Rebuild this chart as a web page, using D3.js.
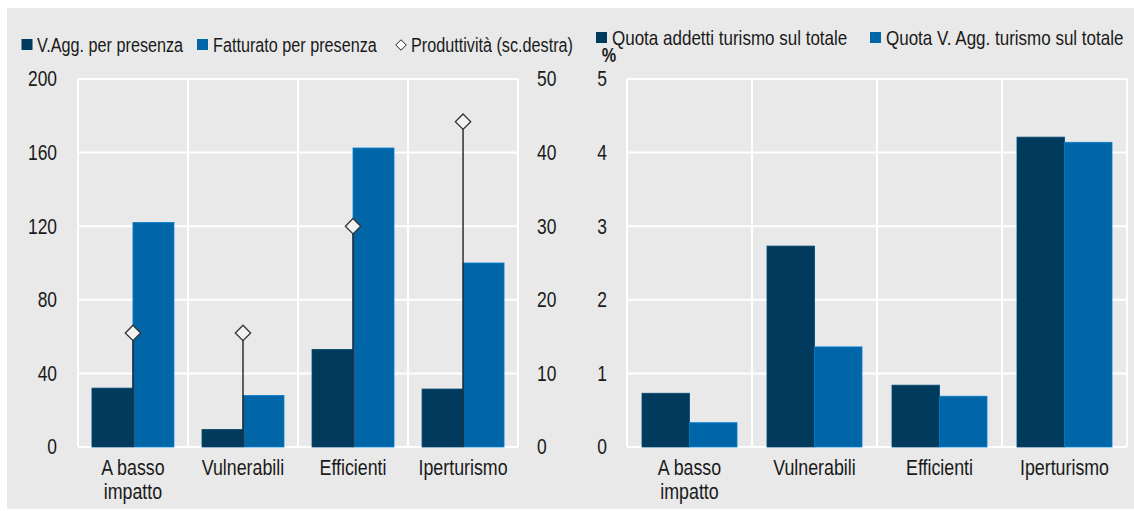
<!DOCTYPE html>
<html>
<head>
<meta charset="utf-8">
<script src="https://cdn.jsdelivr.net/npm/d3@7"></script>
<style>
  body { margin: 0; background: #ffffff; }
  text { font-family: "Liberation Sans", Arial, sans-serif; fill: #1a1a1a; }
</style>
</head>
<body>
<svg id="chart" width="1134" height="511"></svg>
<script>
// Categories of municipalities (label lines for the x axis)
const categories = ["A basso impatto", "Vulnerabili", "Efficienti", "Iperturismo"];
const categoryLines = [["A basso", "impatto"], ["Vulnerabili"], ["Efficienti"], ["Iperturismo"]];

// Left panel: euro per presence (left scale) and productivity (right scale)
const vaggPerPresenza = [32, 9.5, 53, 31.5];
const fatturatoPerPresenza = [122, 28, 162.5, 100];
const produttivita = [15.5, 15.5, 30, 44.2];
const leftTicks = [0, 40, 80, 120, 160, 200];
const rightTicks = [0, 10, 20, 30, 40, 50];

// Right panel: tourism shares of the total (%)
const quotaAddetti = [0.73, 2.73, 0.84, 4.21];
const quotaVAgg = [0.33, 1.36, 0.69, 4.14];
const shareTicks = [0, 1, 2, 3, 4, 5];

const DARK = "#003a5c";
const BLUE = "#0066a8";
const BG = "#e9e9e9";
const TICK_FONT = 21.5;
const CAT_FONT = 22;
const LEG_FONT = 21;
const LEG_FONT_LEFT = 20;
const NARROW = 0.81; // horizontal squeeze giving a condensed face

const svg = d3.select("#chart");
svg.append("rect").attr("x", 7).attr("y", 8).attr("width", 1127).attr("height", 501).attr("fill", BG);

const plotTop = 79, plotBottom = 447;

function drawGrid(g, x, y, ticks) {
  const [x0, x1] = x.range();
  g.selectAll(".hg").data(ticks).join("line")
    .attr("x1", x0).attr("x2", x1)
    .attr("y1", d => y(d)).attr("y2", d => y(d))
    .attr("stroke", "#ffffff").attr("stroke-width", 2);
  const bounds = [x0].concat(x.domain().map(c => x(c) + x.bandwidth() + x.step() * x.paddingInner() / 2));
  bounds[bounds.length - 1] = x1;
  g.selectAll(".vg").data(bounds).join("line")
    .attr("x1", d => d).attr("x2", d => d)
    .attr("y1", y(ticks[ticks.length - 1])).attr("y2", y(0))
    .attr("stroke", "#ffffff").attr("stroke-width", 2);
}

function drawCategoryLabels(g, x) {
  const t = g.selectAll(".cat").data(categories).join("text")
    .attr("text-anchor", "middle")
    .attr("font-size", CAT_FONT)
    .attr("x", d => x(d) + x.bandwidth() / 2)
    .attr("y", 475);
  t.selectAll("tspan").data((d, i) => categoryLines[i]).join("tspan")
    .attr("x", function () { return this.parentNode.getAttribute("x"); })
    .attr("dy", (d, i) => i === 0 ? 0 : 24)
    .text(d => d);
}

function styleAxis(g, anchor) {
  g.select(".domain").remove();
  g.selectAll(".tick line").remove();
  g.selectAll(".tick text").attr("font-size", TICK_FONT).attr("fill", "#1a1a1a")
    .attr("font-family", "'Liberation Sans', Arial, sans-serif")
    .attr("text-anchor", anchor);
}

function drawBars(g, x, sub, y, seriesList) {
  seriesList.forEach((s, k) => {
    g.selectAll(".bar" + k).data(s.values).join("rect")
      .attr("x", (d, i) => x(categories[i]) + sub(k))
      .attr("width", sub.bandwidth())
      .attr("y", d => y(d))
      .attr("height", d => y(0) - y(d))
      .attr("fill", s.color)
      .attr("stroke", d3.color(s.color).brighter(0.6))
      .attr("stroke-width", 0.8);
  });
}

// ---------- Left panel ----------
const xL = d3.scaleBand().domain(categories).range([78, 518]).paddingInner(0.255).paddingOuter(0.127);
const subL = d3.scaleBand().domain([0, 1]).range([0, xL.bandwidth()]);
const yL = d3.scaleLinear().domain([0, 200]).range([plotBottom, plotTop]);
const yR = d3.scaleLinear().domain([0, 50]).range([plotBottom, plotTop]);

const gL = svg.append("g");
drawGrid(gL, xL, yL, leftTicks);
drawBars(gL, xL, subL, yL, [
  { values: vaggPerPresenza, color: DARK },
  { values: fatturatoPerPresenza, color: BLUE }
]);

// productivity: stems from zero to the diamond marker, on the right scale
const diamond = d3.symbol().type(d3.symbolDiamond2).size(150);
gL.selectAll(".stem").data(produttivita).join("line")
  .attr("x1", (d, i) => xL(categories[i]) + xL.bandwidth() / 2)
  .attr("x2", (d, i) => xL(categories[i]) + xL.bandwidth() / 2)
  .attr("y1", yR(0)).attr("y2", d => yR(d))
  .attr("stroke", "#222").attr("stroke-width", 1.4);
gL.selectAll(".prod").data(produttivita).join("path")
  .attr("d", diamond)
  .attr("transform", (d, i) => `translate(${xL(categories[i]) + xL.bandwidth() / 2},${yR(d)})`)
  .attr("fill", "#f2f2f2").attr("stroke", "#333").attr("stroke-width", 1.3);

svg.append("g").attr("transform", "translate(78,0)")
  .call(d3.axisLeft(yL).tickValues(leftTicks).tickFormat(d3.format("d")).tickSize(0).tickPadding(21))
  .call(g => styleAxis(g, "end"));
svg.append("g").attr("transform", "translate(518,0)")
  .call(d3.axisRight(yR).tickValues(rightTicks).tickFormat(d3.format("d")).tickSize(0).tickPadding(19))
  .call(g => styleAxis(g, "start"));
drawCategoryLabels(gL, xL);

// Left legend
const legL = svg.append("g");
legL.append("rect").attr("x", 21.5).attr("y", 39).attr("width", 11).attr("height", 11).attr("fill", DARK);
legL.append("text").attr("x", 37).attr("y", 52).attr("font-size", LEG_FONT_LEFT).text("V.Agg. per presenza");
legL.append("rect").attr("x", 197).attr("y", 39).attr("width", 11).attr("height", 11).attr("fill", BLUE);
legL.append("text").attr("x", 213).attr("y", 52).attr("font-size", LEG_FONT_LEFT).text("Fatturato per presenza");
legL.append("path").attr("d", d3.symbol().type(d3.symbolDiamond2).size(70))
  .attr("transform", "translate(401,45)")
  .attr("fill", "#ffffff").attr("stroke", "#222").attr("stroke-width", 1);
legL.append("text").attr("x", 411).attr("y", 52).attr("font-size", LEG_FONT_LEFT).text("Produttività (sc.destra)");

// ---------- Right panel ----------
const xS = d3.scaleBand().domain(categories).range([627, 1127]).paddingInner(0.24).paddingOuter(0.12);
const subS = d3.scaleBand().domain([0, 1]).range([0, xS.bandwidth()]);
const yS = d3.scaleLinear().domain([0, 5]).range([plotBottom, plotTop]);

const gS = svg.append("g");
drawGrid(gS, xS, yS, shareTicks);
drawBars(gS, xS, subS, yS, [
  { values: quotaAddetti, color: DARK },
  { values: quotaVAgg, color: BLUE }
]);
svg.append("g").attr("transform", "translate(627,0)")
  .call(d3.axisLeft(yS).tickValues(shareTicks).tickFormat(d3.format("d")).tickSize(0).tickPadding(20))
  .call(g => styleAxis(g, "end"));
drawCategoryLabels(gS, xS);

svg.append("text").attr("x", 609).attr("y", 62).attr("text-anchor", "middle")
  .attr("font-size", 20).attr("font-weight", "bold").text("%");

// Right legend
const legS = svg.append("g");
legS.append("rect").attr("x", 596).attr("y", 32).attr("width", 11).attr("height", 11).attr("fill", DARK);
legS.append("text").attr("x", 612).attr("y", 45).attr("font-size", LEG_FONT).text("Quota addetti turismo sul totale");
legS.append("rect").attr("x", 870).attr("y", 32).attr("width", 11).attr("height", 11).attr("fill", BLUE);
legS.append("text").attr("x", 886).attr("y", 45).attr("font-size", LEG_FONT).text("Quota V. Agg. turismo sul totale");

// Condense every label horizontally around its own anchor position
svg.selectAll("text").each(function () {
  const t = d3.select(this);
  const x = +(t.attr("x") || 0);
  t.attr("x", x / NARROW).attr("transform", `scale(${NARROW},1)`);
  t.selectAll("tspan").each(function () {
    const s = d3.select(this);
    if (s.attr("x") !== null) s.attr("x", +s.attr("x") / NARROW);
  });
});
</script>
</body>
</html>
